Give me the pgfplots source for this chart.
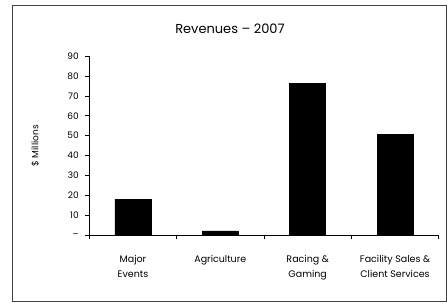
\documentclass[border=0pt]{standalone}
\usepackage{fontspec}
\setmainfont{Poppins}
\usepackage{pgfplots}
\pgfplotsset{compat=1.18}
\begin{document}
\begin{tikzpicture}[x=1pt,y=1pt]
\path[use as bounding box] (0,0) rectangle (447,304);
\draw[line width=1pt, black!75] (12,2.5) rectangle (446.5,298);
\node[font=\fontsize{13}{16}\selectfont] at (230,275) {Revenues -- 2007};
\begin{axis}[
  at={(89.3pt,68.7pt)}, anchor=south west,
  scale only axis, width=349.4pt, height=179.3pt,
  xmin=-0.5, xmax=3.5, ymin=0, ymax=90,
  ytick={0,10,...,90},
  yticklabels={--,10,20,30,40,50,60,70,80,90},
  yticklabel style={xshift=-3pt},
  xtick={-0.5,0.5,1.5,2.5,3.5}, xticklabels={},
  extra x ticks={0,1,2,3},
  extra x tick labels={Major\\Events,Agriculture,Racing \&\\Gaming,Facility Sales \&\\Client Services},
  extra x tick style={major tick length=0pt, tick label style={align=center, anchor=north, yshift=-16pt, font=\fontsize{9.5}{15}\selectfont}},
  axis y line=left, axis x line=bottom,
  axis line style={-, line width=0.8pt},
  tick style={black, line width=0.6pt},
  major tick length=4pt,
  ytick align=outside, xtick align=outside,
  ybar, bar width=36pt,
  ylabel={\$ Millions},
  ylabel style={at={(axis description cs:-0.155,0.5)}, anchor=center, font=\fontsize{9}{10}\selectfont},
  tick label style={font=\fontsize{9}{11}\selectfont},
  /pgf/number format/assume math mode=true,
]
\addplot[fill=black, draw=black] coordinates {(0,18.2) (1,2.2) (2,76.4) (3,50.8)};
\end{axis}
\end{tikzpicture}
\end{document}
